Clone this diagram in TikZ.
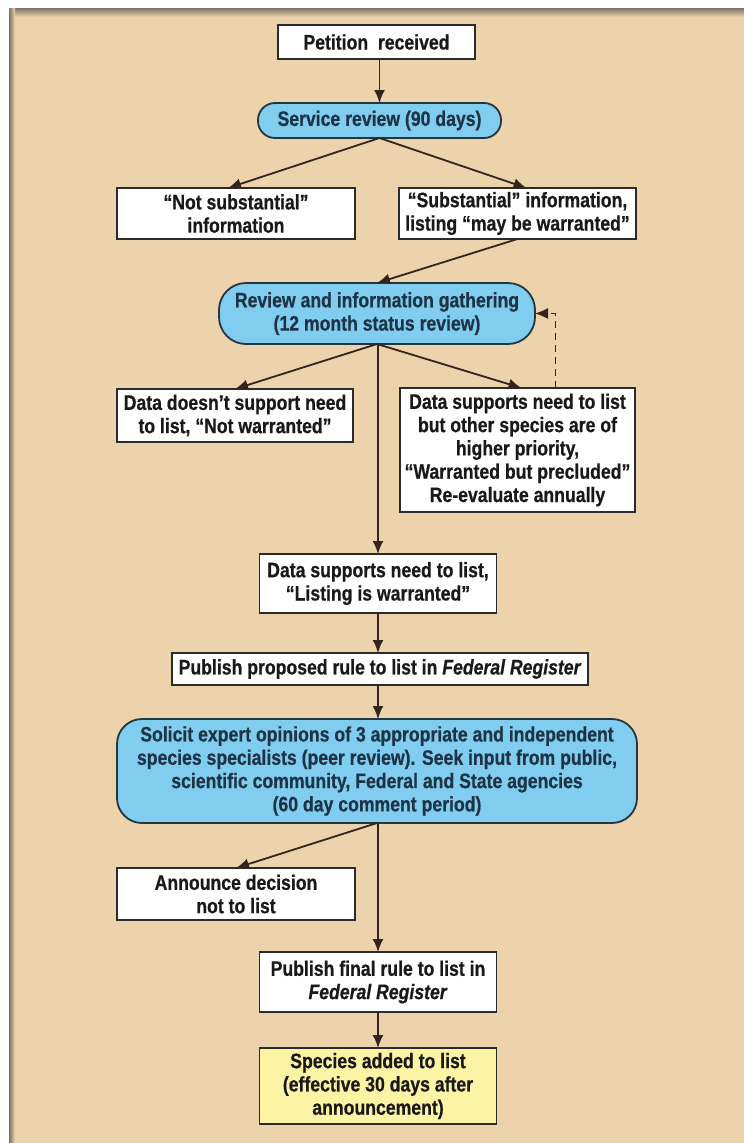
\documentclass[tikz,border=0pt]{standalone}
\usepackage{fontspec}
\setmainfont{Liberation Sans}[FakeStretch=0.84, BoldFeatures={FakeBold=0.6}, BoldItalicFeatures={FakeBold=0.6}]
\usetikzlibrary{arrows.meta,calc}
\definecolor{tanbg}{HTML}{ECD3AC}
\definecolor{bluefill}{HTML}{80CDF0}
\definecolor{yellowfill}{HTML}{FDF3A5}
\definecolor{edge}{HTML}{2B2B2B}
\definecolor{blueedge}{HTML}{24363F}
\definecolor{arrcol}{HTML}{33251D}
\definecolor{navytext}{HTML}{1E3446}
\definecolor{shadowgray}{HTML}{7D7264}
\begin{document}
\begin{tikzpicture}[x=1pt,y=-1pt,
  every node/.style={font=\bfseries\fontsize{21}{23.3}\selectfont, align=center, inner sep=0pt, outer sep=0pt},
  whitebox/.style={draw=edge, line width=1.5pt, fill=white, text=black!90},
  bluebox/.style={draw=blueedge, line width=1.8pt, fill=bluefill, text=navytext},
  yellowbox/.style={draw=edge, line width=1.5pt, fill=yellowfill, text=black!90},
  arr/.style={draw=arrcol, line width=1.8pt, -{Latex[length=13pt,width=11pt]}},
  dasharr/.style={arr, line width=1.3pt, dash pattern=on 7pt off 5pt}]
\useasboundingbox (0,0) rectangle (744,1143);
\fill[white] (0,0) rectangle (744,1143);
\fill[tanbg] (9,8) rectangle (744,1143);
\shade[top color=shadowgray, bottom color=tanbg] (9,8) rectangle (744,17);
\shade[left color=shadowgray, right color=tanbg] (9,8) rectangle (15,1143);

\node[whitebox, minimum width=197pt, minimum height=34pt] (pet) at (376.5,42) {Petition\ \ received};
\node[bluebox, rounded corners=17pt, minimum width=243pt, minimum height=35pt] (svc) at (379.5,120.5) {Service review (90 days)};
\node[whitebox, minimum width=238pt, minimum height=51pt] (notsub) at (236,213.5) {“Not substantial”\\information};
\node[whitebox, minimum width=237pt, minimum height=51pt] (subs) at (517.5,213.5) {“Substantial” information,\\listing “may be warranted”};
\node[bluebox, rounded corners=27pt, minimum width=316pt, minimum height=61pt] (review) at (377,313.5) {Review and information gathering\\(12 month status review)};
\node[whitebox, minimum width=236pt, minimum height=53pt] (notwarr) at (235,415.5) {Data doesn’t support need\\to list, “Not warranted”};
\node[whitebox, minimum width=235pt, minimum height=124pt] (precl) at (517.5,450) {Data supports need to list\\but other species are of\\higher priority,\\“Warranted but precluded”\\Re-evaluate annually};
\node[whitebox, minimum width=237pt, minimum height=59pt] (listing) at (378,583.5) {Data supports need to list,\\“Listing is warranted”};
\node[whitebox, minimum width=416pt, minimum height=32pt] (propose) at (380,669) {Publish proposed rule to list in \textit{Federal Register}};
\node[bluebox, rounded corners=25pt, minimum width=520pt, minimum height=104pt] (solicit) at (377,771) {Solicit expert opinions of 3 appropriate and independent\\species specialists (peer review). Seek input from public,\\scientific community, Federal and State agencies\\(60 day comment period)};
\node[whitebox, minimum width=238pt, minimum height=52pt] (announce) at (236,894) {Announce decision\\not to list};
\node[whitebox, minimum width=237pt, minimum height=60pt] (final) at (378,982) {Publish final rule to list in\\\textit{Federal Register}};
\node[yellowbox, minimum width=237pt, minimum height=76pt] (species) at (378,1086) {Species added to list\\(effective 30 days after\\announcement)};

\draw[arr] (pet.south -| svc.south) -- (svc.north);
\draw[arr] (svc.south) -- ($(notsub.north)+(-8,0)$);
\draw[arr] (svc.south) -- ($(subs.north)+(9,0)$);
\draw[arr] (subs.south) -- (review.north);
\draw[arr] (review.south) -- (notwarr.north);
\draw[arr] (review.south) -- ($(precl.north)+(4,0)$);
\draw[arr] (review.south -| listing.north) -- (listing.north);
\draw[dasharr] ($(precl.north)+(38,0)$) |- (review.east);
\draw[arr] (listing.south) -- (listing.south |- propose.north);
\draw[arr] (propose.south -| listing.south) -- (solicit.north -| listing.south);
\draw[arr] (solicit.south) -- (announce.north);
\draw[arr] (solicit.south -| final.north) -- (final.north);
\draw[arr] (final.south) -- (species.north);
\end{tikzpicture}
\end{document}
